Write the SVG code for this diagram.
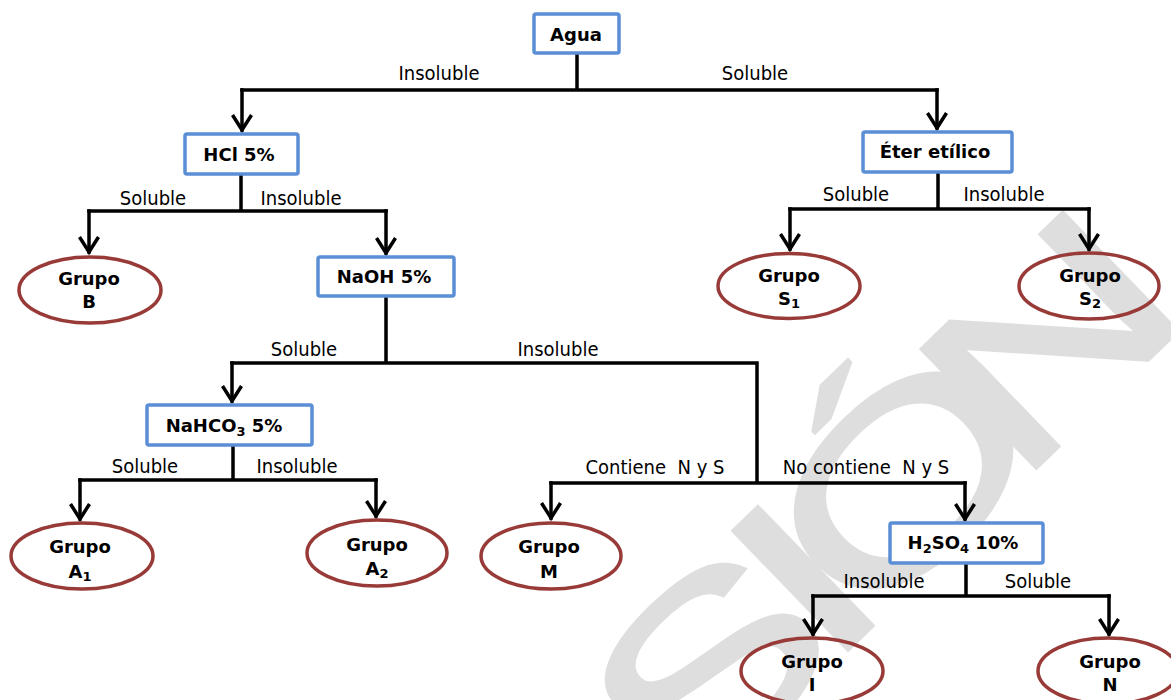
<svg xmlns="http://www.w3.org/2000/svg" width="1171" height="700" viewBox="0 0 1171 700">
<defs>
<style>
.box{fill:#fff;stroke:#5a8fd6;stroke-width:3.5}
.ell{fill:none;stroke:#983a37;stroke-width:3.5}
.nt{font-family:"DejaVu Sans",Verdana,sans-serif;font-weight:bold;font-size:18px;fill:#000;text-anchor:middle}
.lb{font-family:"DejaVu Sans Condensed","DejaVu Sans",sans-serif;font-size:20px;fill:#000;text-anchor:middle}
.sub{font-size:13px}
.ln{fill:none;stroke:#000;stroke-width:3.5;stroke-linecap:square}
.ar{marker-end:url(#arr)}
.wm{font-family:"Liberation Sans",Arial,sans-serif;font-size:240px;fill:#dedede;stroke:#dedede;stroke-width:4}
</style>
<marker id="arr" markerUnits="userSpaceOnUse" markerWidth="40" markerHeight="40" viewBox="-20 -20 40 40" refX="0" refY="0" orient="auto" overflow="visible">
<path d="M-15,-9.5 L0,0 L-15,9.5" fill="none" stroke="#000" stroke-width="3.5"/>
</marker>
</defs>
<rect width="1171" height="700" fill="#fff"/>
<g id="watermark">
<text class="wm" transform="translate(860,638) rotate(-44) scale(1.45,1)" x="-170 -33 4 150" y="0">SIÓN</text>
</g>
<g id="connectors">
<path class="ln" d="M577,53 V90 M242,90 H937"/>
<path class="ln ar" d="M242,90 V130"/>
<path class="ln ar" d="M937,90 V128"/>
<path class="ln" d="M241,174 V211 M89,211 H386"/>
<path class="ln ar" d="M89,211 V252"/>
<path class="ln ar" d="M386,211 V253"/>
<path class="ln" d="M938,172 V209 M790,209 H1089"/>
<path class="ln ar" d="M790,209 V249"/>
<path class="ln ar" d="M1089,209 V249"/>
<path class="ln" d="M386,296 V363 M232,363 H757 V483 M551,483 H965"/>
<path class="ln ar" d="M232,363 V401"/>
<path class="ln ar" d="M551,483 V518"/>
<path class="ln ar" d="M965,483 V519"/>
<path class="ln" d="M233,445 V480 M80,480 H376"/>
<path class="ln ar" d="M80,480 V519"/>
<path class="ln ar" d="M376,480 V516"/>
<path class="ln" d="M966,563 V596 M813,596 H1109"/>
<path class="ln ar" d="M813,596 V634"/>
<path class="ln ar" d="M1109,596 V634"/>
</g>
<g id="labels">
<text class="lb" x="439" y="80">Insoluble</text>
<text class="lb" x="755" y="80">Soluble</text>
<text class="lb" x="153" y="205">Soluble</text>
<text class="lb" x="301" y="205">Insoluble</text>
<text class="lb" x="856" y="201">Soluble</text>
<text class="lb" x="1004" y="201">Insoluble</text>
<text class="lb" x="304" y="356">Soluble</text>
<text class="lb" x="558" y="356">Insoluble</text>
<text class="lb" x="145" y="473">Soluble</text>
<text class="lb" x="297" y="473">Insoluble</text>
<text class="lb" x="655" y="474" xml:space="preserve">Contiene  N y S</text>
<text class="lb" x="866" y="474" xml:space="preserve">No contiene  N y S</text>
<text class="lb" x="884" y="588">Insoluble</text>
<text class="lb" x="1038" y="588">Soluble</text>
</g>
<g id="n-agua"><rect class="box" x="534" y="14" width="85" height="39" rx="2"/><text class="nt" x="576" y="41">Agua</text></g>
<g id="n-hcl"><rect class="box" x="185" y="134" width="113" height="40" rx="2"/><text class="nt" x="239" y="161">HCl 5%</text></g>
<g id="n-eter"><rect class="box" x="863" y="132" width="149" height="40" rx="2"/><text class="nt" x="935" y="158">Éter etílico</text></g>
<g id="n-naoh"><rect class="box" x="318" y="257" width="136" height="39" rx="2"/><text class="nt" x="384" y="283">NaOH 5%</text></g>
<g id="n-nahco3"><rect class="box" x="147" y="405" width="165" height="40" rx="2"/><text class="nt" x="224" y="432">NaHCO<tspan class="sub" dy="4">3</tspan><tspan dy="-4"> 5%</tspan></text></g>
<g id="n-h2so4"><rect class="box" x="890" y="523" width="153" height="40" rx="2"/><text class="nt" x="963" y="549">H<tspan class="sub" dy="4">2</tspan><tspan dy="-4">SO</tspan><tspan class="sub" dy="4">4</tspan><tspan dy="-4"> 10%</tspan></text></g>
<g id="n-b"><ellipse class="ell" cx="90" cy="290" rx="71" ry="33"/><text class="nt" x="89" y="285">Grupo</text><text class="nt" x="89" y="308">B</text></g>
<g id="n-s1"><ellipse class="ell" cx="789" cy="286" rx="71" ry="32.5"/><text class="nt" x="789" y="282">Grupo</text><text class="nt" x="789" y="305">S<tspan class="sub" dy="3">1</tspan></text></g>
<g id="n-s2"><ellipse class="ell" cx="1089" cy="286" rx="70" ry="33"/><text class="nt" x="1090" y="282">Grupo</text><text class="nt" x="1090" y="305">S<tspan class="sub" dy="3">2</tspan></text></g>
<g id="n-a1"><ellipse class="ell" cx="82" cy="556" rx="71" ry="33"/><text class="nt" x="80" y="553">Grupo</text><text class="nt" x="80" y="578">A<tspan class="sub" dy="3">1</tspan></text></g>
<g id="n-a2"><ellipse class="ell" cx="377" cy="553" rx="70" ry="33"/><text class="nt" x="377" y="551">Grupo</text><text class="nt" x="377" y="575">A<tspan class="sub" dy="3">2</tspan></text></g>
<g id="n-m"><ellipse class="ell" cx="551" cy="556" rx="70" ry="33"/><text class="nt" x="549" y="553">Grupo</text><text class="nt" x="549" y="578">M</text></g>
<g id="n-i"><ellipse class="ell" cx="812" cy="671" rx="71" ry="33"/><text class="nt" x="812" y="668">Grupo</text><text class="nt" x="812" y="691">I</text></g>
<g id="n-n"><ellipse class="ell" cx="1108" cy="671" rx="70" ry="33"/><text class="nt" x="1110" y="668">Grupo</text><text class="nt" x="1110" y="691">N</text></g>
</svg>
